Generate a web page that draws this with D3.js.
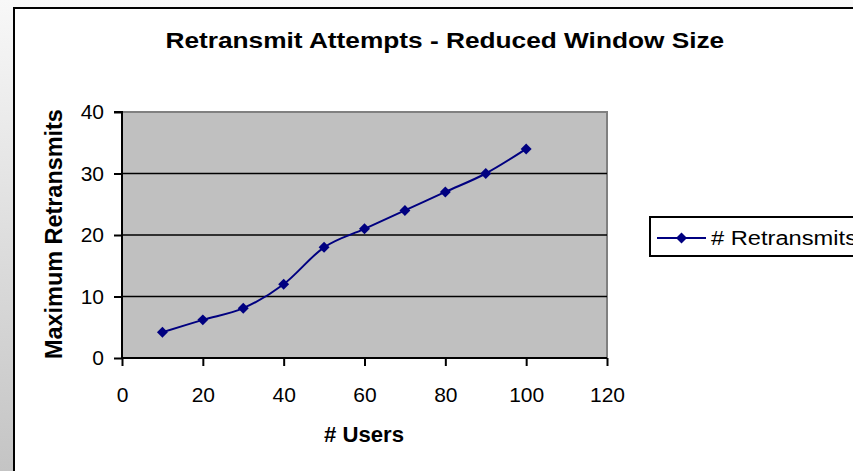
<!DOCTYPE html>
<html>
<head>
<meta charset="utf-8">
<script src="https://cdn.jsdelivr.net/npm/d3@7"></script>
<style>
  html, body { margin: 0; padding: 0; background: #fff; }
  svg { display: block; font-family: "Liberation Sans", Arial, sans-serif; }
</style>
</head>
<body>
<svg id="chart" width="853" height="471"></svg>
<script>
const users = [10, 20, 30, 40, 50, 60, 70, 80, 90, 100];
const retransmits = [4.2, 6.2, 8.1, 12, 18, 21, 24, 27, 30, 34];
const xTicks = [0, 20, 40, 60, 80, 100, 120];
const yTicks = [0, 10, 20, 30, 40];
const seriesName = "# Retransmits";
const titleText = "Retransmit Attempts - Reduced Window Size";
const xTitle = "# Users";
const yTitle = "Maximum Retransmits";

const svg = d3.select("#chart");
const W = 853, H = 471;

const defs = svg.append("defs");
const grad = defs.append("linearGradient").attr("id", "bg").attr("x1", 0).attr("y1", 0).attr("x2", 0).attr("y2", 1);
grad.append("stop").attr("offset", "0%").attr("stop-color", "#f8f8f8");
grad.append("stop").attr("offset", "100%").attr("stop-color", "#c4c4c4");
svg.append("rect").attr("width", W).attr("height", H).attr("fill", "url(#bg)");

svg.append("rect").attr("x", 14).attr("y", 8).attr("width", W + 20).attr("height", H + 20)
  .attr("fill", "#fff").attr("stroke", "#000").attr("stroke-width", 2);

const plot = { left: 122, right: 607, top: 112, bottom: 358 };
const x = d3.scaleLinear().domain([0, 120]).range([plot.left, plot.right]);
const y = d3.scaleLinear().domain([0, 40]).range([plot.bottom, plot.top]);

svg.append("rect").attr("x", plot.left).attr("y", plot.top)
  .attr("width", plot.right - plot.left).attr("height", plot.bottom - plot.top)
  .attr("fill", "#c0c0c0").attr("stroke", "#808080").attr("stroke-width", 2);

svg.append("g").selectAll("line").data(yTicks.filter(d => d > 0 && d < 40)).join("line")
  .attr("x1", plot.left).attr("x2", plot.right)
  .attr("y1", d => y(d)).attr("y2", d => y(d))
  .attr("stroke", "#000").attr("stroke-width", 1.3);

const yAxis = d3.axisLeft(y).tickValues(yTicks).tickSize(8).tickPadding(10);
const gy = svg.append("g").attr("transform", `translate(${plot.left},0)`).call(yAxis);
const xAxis = d3.axisBottom(x).tickValues(xTicks).tickSize(8).tickPadding(21);
const gx = svg.append("g").attr("transform", `translate(0,${plot.bottom})`).call(xAxis);
[gx, gy].forEach(g => {
  g.select(".domain").attr("stroke", "#000").attr("stroke-width", 2);
  g.selectAll(".tick line").attr("stroke", "#000").attr("stroke-width", 2);
  g.selectAll(".tick text").attr("fill", "#000").attr("font-size", 21)
    .attr("font-family", "Liberation Sans, Arial, sans-serif");
});
gy.select(".domain").attr("d", `M-8,${plot.top}H0V${plot.bottom}`);
gx.select(".domain").attr("d", `M${plot.left},0H${plot.right}`);

const data = users.map((u, i) => ({ u, v: retransmits[i] }));
const line = d3.line().x(d => x(d.u)).y(d => y(d.v)).curve(d3.curveCatmullRom.alpha(0));
svg.append("path").datum(data).attr("d", line)
  .attr("fill", "none").attr("stroke", "#000080").attr("stroke-width", 2);

const diamond = d3.symbol().type(d3.symbolSquare).size(60);
svg.append("g").selectAll("path").data(data).join("path")
  .attr("d", diamond())
  .attr("transform", d => `translate(${x(d.u)},${y(d.v)}) rotate(45)`)
  .attr("fill", "#000080");

// fit text horizontally (in its own direction) to a target length by scaling
function fitText(sel, tx, ty, rot, target, thick) {
  const len = sel.node().getComputedTextLength();
  const s = target / len;
  sel.attr("x", 0).attr("y", 0)
    .attr("transform", `translate(${tx},${ty}) rotate(${rot}) scale(${s},${thick})`);
}

const tt = svg.append("text").attr("font-size", 22.5).attr("font-weight", "bold").text(titleText);
fitText(tt, 165.5, 47.5, 0, 559, 1);

const xt = svg.append("text").attr("font-size", 21.5).attr("font-weight", "bold").text(xTitle);
fitText(xt, 324, 442, 0, 80, 1);

const yt = svg.append("text").attr("font-size", 21.5).attr("font-weight", "bold").text(yTitle);
fitText(yt, 62, 359, -90, 250, 1.08);

const lg = svg.append("g");
lg.append("rect").attr("x", 650).attr("y", 217).attr("width", 260).attr("height", 39)
  .attr("fill", "#fff").attr("stroke", "#000").attr("stroke-width", 2);
lg.append("line").attr("x1", 657).attr("x2", 706).attr("y1", 238).attr("y2", 238)
  .attr("stroke", "#000080").attr("stroke-width", 2);
lg.append("path").attr("d", diamond()).attr("transform", "translate(681.5,238) rotate(45)").attr("fill", "#000080");
const lt = lg.append("text").attr("font-size", 20).text(seriesName);
fitText(lt, 711, 245, 0, 146, 1);
</script>
</body>
</html>
